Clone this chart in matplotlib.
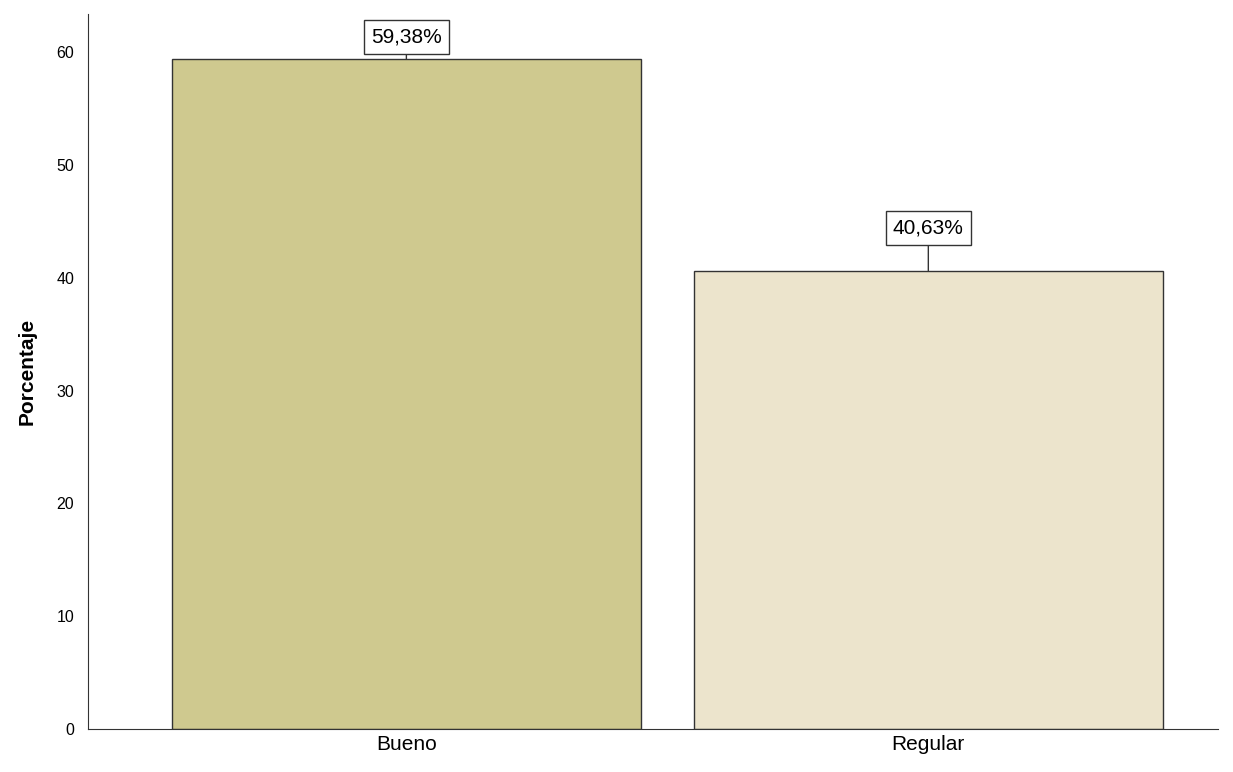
import matplotlib
matplotlib.use("Agg")
import matplotlib.pyplot as plt

categories = ["Bueno", "Regular"]
values = [59.38, 40.63]
labels = ["59,38%", "40,63%"]
colors = ["#cfc98f", "#ece4cc"]

plt.rcParams['font.family'] = ['Liberation Sans', 'DejaVu Sans']
fig = plt.figure(figsize=(12.33, 7.72), dpi=100)
ax = fig.add_axes([88/1233, 1-729/772, 1130/1233, 715/772])
x = list(range(len(categories)))
ax.bar(x, values, width=0.898, color=colors, edgecolor="#333333", linewidth=1)
ax.set_xlim(-0.61, 1.555)
ax.set_ylim(0, 63.4)
ax.set_yticks([0, 10, 20, 30, 40, 50, 60])
ax.tick_params(axis='y', labelsize=11.5, length=0, pad=10)
ax.tick_params(axis='x', labelsize=15, length=0, pad=4)
ax.set_xticks(x)
ax.set_xticklabels(categories)
ax.set_ylabel("Porcentaje", fontsize=15, fontweight='bold', labelpad=14)
for s in ['top', 'right']:
    ax.spines[s].set_visible(False)
for s in ['left', 'bottom']:
    ax.spines[s].set_color('#333333')
offsets = [2.0, 3.8]
for xi, v, lab, off in zip(x, values, labels, offsets):
    ax.annotate(lab, xy=(xi, v), xytext=(xi, v + off), ha='center', va='center',
                fontsize=15,
                bbox=dict(boxstyle='square,pad=0.35', fc='white', ec='#333333', lw=1),
                arrowprops=dict(arrowstyle='-', color='#333333', lw=1, shrinkA=0, shrinkB=0))
fig.savefig("out.png", dpi=100)
